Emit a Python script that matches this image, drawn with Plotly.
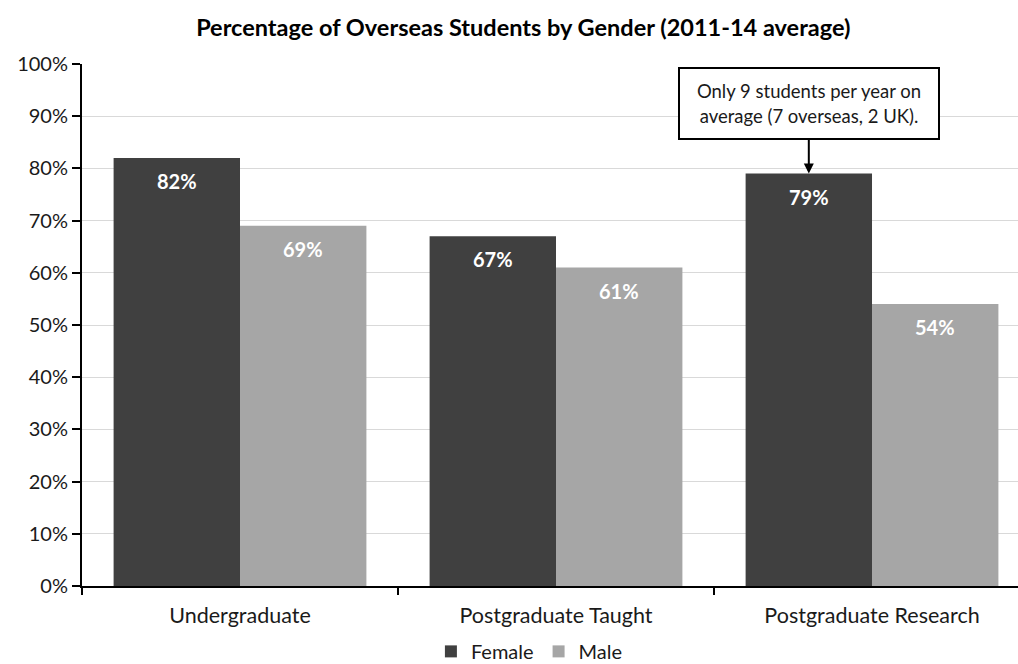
import plotly.graph_objects as go

categories = ["Undergraduate", "Postgraduate Taught", "Postgraduate Research"]
female = [82, 67, 79]
male = [69, 61, 54]
y_ticks = list(range(0, 101, 10))
y_tick_labels = [f"{t}%" for t in y_ticks]

FEMALE_COLOR = "#404040"
MALE_COLOR = "#a6a6a6"
FONT = "Lato"
TEXT_COLOR = "#1a1a1a"

fig = go.Figure()
fig.add_trace(go.Bar(name="Female", x=categories, y=female,
                     marker=dict(color=FEMALE_COLOR, line=dict(width=0))))
fig.add_trace(go.Bar(name="Male", x=categories, y=male,
                     marker=dict(color=MALE_COLOR, line=dict(width=0))))

# value labels just inside the top of each bar
for i in range(len(categories)):
    for offset, vals in ((-0.2, female), (0.2, male)):
        fig.add_annotation(x=i + offset, y=vals[i], text=f"<b>{vals[i]}%</b>",
                           showarrow=False, yanchor="top", yshift=-9,
                           font=dict(family=FONT, size=20, color="white"))

# callout for the research female bar
fig.add_annotation(x=2 - 0.2, y=female[2],
                   text="Only 9 students per year on<br>average (7 overseas, 2 UK).",
                   showarrow=True, arrowhead=2, arrowsize=1, arrowwidth=2,
                   arrowcolor="black", ax=0, ay=-70,
                   bordercolor="black", borderwidth=2, borderpad=4,
                   bgcolor="white", width=250, height=61,
                   font=dict(family=FONT, size=18.5, color=TEXT_COLOR))

fig.update_layout(
    width=1018, height=664,
    margin=dict(l=82, r=0, t=64, b=78, autoexpand=False),
    paper_bgcolor="white", plot_bgcolor="white",
    barmode="group", bargap=0.2, bargroupgap=0,
    font=dict(family=FONT, size=19, color=TEXT_COLOR),
    title=dict(text="<b>Percentage of Overseas Students by Gender (2011-14 average)</b>",
               x=0.514, xanchor="center", xref="container",
               y=0.958, yanchor="middle", yref="container",
               font=dict(family=FONT, size=23.5, color="black")),
    legend=dict(orientation="h", x=0.478, xanchor="center",
                y=0.019, yanchor="middle", yref="container",
                font=dict(family=FONT, size=20, color=TEXT_COLOR),
                itemwidth=30, traceorder="normal"),
    showlegend=True,
)
fig.update_xaxes(type="category", range=[-0.5, 2.462], tickson="boundaries",
                 ticks="outside", ticklen=7, tickwidth=2, tickcolor="black",
                 showline=True, linecolor="black", linewidth=2,
                 showgrid=False, ticklabelstandoff=9,
                 tickfont=dict(family=FONT, size=21.5, color=TEXT_COLOR))
fig.update_yaxes(range=[0, 100], tickvals=y_ticks, ticktext=y_tick_labels,
                 ticks="outside", ticklen=8, tickwidth=2, tickcolor="black",
                 showline=True, linecolor="black", linewidth=2,
                 showgrid=True, gridcolor="#d9d9d9", gridwidth=1, zeroline=False,
                 tickfont=dict(family=FONT, size=20, color=TEXT_COLOR))

fig.write_html("out.html")
